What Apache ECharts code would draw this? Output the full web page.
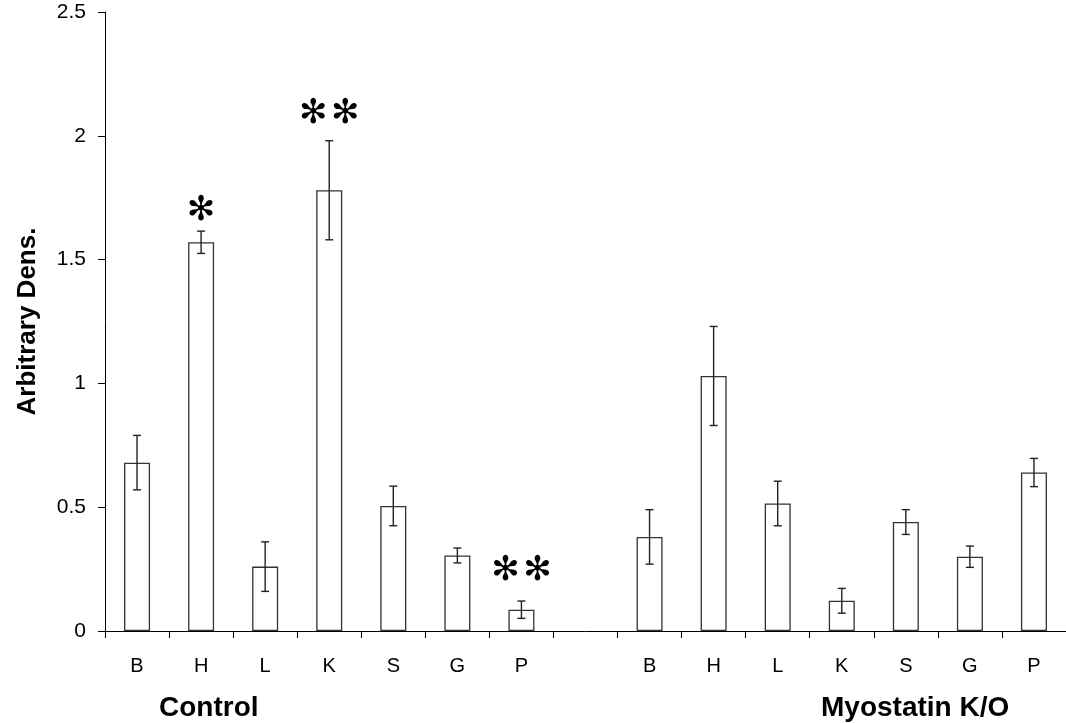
<!DOCTYPE html>
<html>
<head>
    <meta charset="utf-8">
    <script src="https://cdn.jsdelivr.net/npm/echarts@6/dist/echarts.min.js"></script>
    <style>
        html, body { margin: 0; padding: 0; background: #fff; }
        #main { width: 1066px; height: 723px; }
    </style>
</head>

<body>
    <div id="main"></div>

    <script type="text/javascript">
        // tick labels: control group, empty gap, knock-out group
        var tissues = ['B', 'H', 'L', 'K', 'S', 'G', 'P'];
        var categories = tissues.concat(['']).concat(tissues);

        var controlValues = [0.68, 1.57, 0.26, 1.78, 0.505, 0.305, 0.086];
        var controlErrors = [0.11, 0.045, 0.10, 0.20, 0.08, 0.03, 0.035];
        var koValues = [0.38, 1.03, 0.515, 0.122, 0.44, 0.30, 0.64];
        var koErrors = [0.11, 0.20, 0.09, 0.05, 0.05, 0.043, 0.057];

        // significance marks and the height they sit at
        var controlStars = [0, 1, 0, 2, 0, 0, 2];
        var controlStarY = [null, 1.697, null, 2.089, null, null, 0.241];

        var font = 'Liberation Sans, Arial, sans-serif';

        var values = controlValues.concat([null]).concat(koValues);
        var errors = controlErrors.concat([null]).concat(koErrors);

        var errData = [];
        for (var i = 0; i < values.length; i++) {
            if (values[i] == null) continue;
            errData.push([i, values[i] - errors[i], values[i] + errors[i]]);
        }

        var starData = [];
        for (var j = 0; j < controlStars.length; j++) {
            if (controlStars[j] > 0) starData.push([j, controlStarY[j], controlStars[j]]);
        }

        var myChart = echarts.init(document.getElementById('main'));

        myChart.setOption({
            animation: false,
            grid: {
                left: 105,
                right: -7,
                top: 12,
                bottom: 92
            },
            xAxis: {
                type: 'category',
                data: categories,
                axisLine: { lineStyle: { color: '#000', width: 1 } },
                axisTick: { show: true, interval: 0, length: 7, lineStyle: { color: '#000', width: 1 } },
                axisLabel: {
                    color: '#000',
                    fontFamily: font,
                    fontSize: 20,
                    margin: 25,
                    interval: 0
                }
            },
            yAxis: {
                type: 'value',
                min: 0,
                max: 2.5,
                interval: 0.5,
                name: 'Arbitrary Dens.',
                nameLocation: 'middle',
                nameGap: 64,
                nameTextStyle: {
                    color: '#000',
                    fontFamily: font,
                    fontSize: 26,
                    fontWeight: 'bold'
                },
                axisLine: { show: true, lineStyle: { color: '#000', width: 1 } },
                axisTick: { show: true, length: 7, lineStyle: { color: '#000' } },
                splitLine: { show: false },
                axisLabel: {
                    color: '#000',
                    fontFamily: font,
                    fontSize: 21,
                    margin: 19
                }
            },
            graphic: [
                {
                    type: 'text',
                    left: 159,
                    top: 694,
                    style: {
                        text: 'Control',
                        font: 'bold 28px ' + font,
                        fill: '#000'
                    }
                },
                {
                    type: 'text',
                    left: 821,
                    top: 694,
                    style: {
                        text: 'Myostatin K/O',
                        font: 'bold 28px ' + font,
                        fill: '#000'
                    }
                }
            ],
            series: [
                {
                    type: 'bar',
                    data: values,
                    barWidth: 26,
                    itemStyle: {
                        color: '#fff',
                        borderColor: '#333',
                        borderWidth: 1.3
                    }
                },
                {
                    type: 'custom',
                    data: errData,
                    z: 5,
                    renderItem: function (params, api) {
                        var x = api.value(0);
                        var lo = api.coord([x, api.value(1)]);
                        var hi = api.coord([x, api.value(2)]);
                        var cap = 4;
                        var st = { stroke: '#222', lineWidth: 1.4 };
                        return {
                            type: 'group',
                            children: [
                                { type: 'line', shape: { x1: hi[0], y1: hi[1], x2: lo[0], y2: lo[1] }, style: st },
                                { type: 'line', shape: { x1: hi[0] - cap, y1: hi[1], x2: hi[0] + cap, y2: hi[1] }, style: st },
                                { type: 'line', shape: { x1: lo[0] - cap, y1: lo[1], x2: lo[0] + cap, y2: lo[1] }, style: st }
                            ]
                        };
                    }
                },
                {
                    type: 'custom',
                    data: starData,
                    z: 6,
                    renderItem: function (params, api) {
                        var p = api.coord([api.value(0), api.value(1)]);
                        var n = api.value(2);
                        var kids = [];
                        for (var k = 0; k < n; k++) {
                            var dx = (k - (n - 1) / 2) * 32;
                            kids.push({
                                type: 'text',
                                x: p[0] + dx,
                                y: p[1],
                                style: {
                                    text: '\u273B',
                                    font: '34px DejaVu Sans',
                                    fill: '#000',
                                    align: 'center',
                                    verticalAlign: 'middle'
                                }
                            });
                        }
                        return { type: 'group', children: kids };
                    }
                }
            ]
        });
    </script>
</body>

</html>
